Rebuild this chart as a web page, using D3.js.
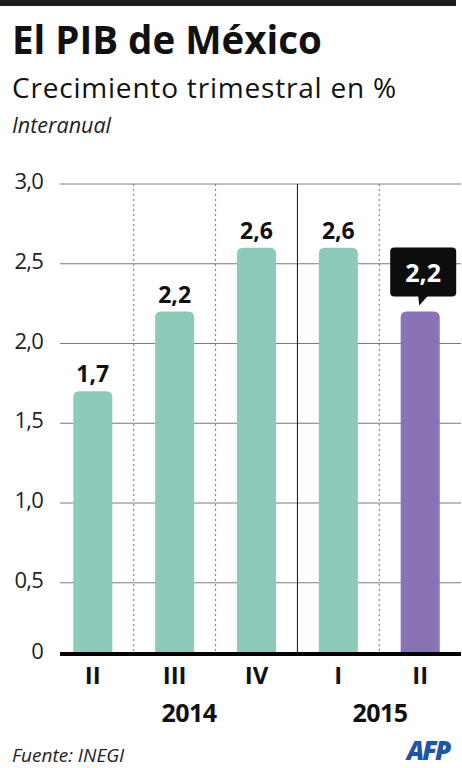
<!DOCTYPE html>
<html><head><meta charset="utf-8">
<script src="https://cdn.jsdelivr.net/npm/d3@7"></script>
<style>
html,body{margin:0;padding:0;background:#fff;}
svg{display:block;}
text{font-family:"Open Sans","Noto Sans",sans-serif;}
</style></head>
<body>
<script>
// ---- data ----
const quarters = ["II", "III", "IV", "I", "II"];
const years = ["2014", "2014", "2014", "2015", "2015"];
const values = [1.7, 2.2, 2.6, 2.6, 2.2];
const valueLabels = ["1,7", "2,2", "2,6", "2,6", "2,2"];
const yTicks = [0, 0.5, 1.0, 1.5, 2.0, 2.5, 3.0];
const yTickLabels = ["0", "0,5", "1,0", "1,5", "2,0", "2,5", "3,0"];
const yearLabels = ["2014", "2015"];
const highlightIndex = 4;

const W = 462, H = 768;
const svg = d3.select("body").append("svg").attr("width", W).attr("height", H);

const teal = "#8dcaba", purple = "#8a73b5";

// top bar
svg.append("rect").attr("x", 0).attr("y", 0).attr("width", 456).attr("height", 6).attr("fill", "#1c1c1c");

// titles
svg.append("text").attr("x", 12).attr("y", 54).attr("font-size", 38.5).attr("font-weight", 700)
  .attr("fill", "#111").text("El PIB de México");
svg.append("text").attr("x", 12).attr("y", 98).attr("font-size", 28).attr("font-weight", 400)
  .attr("fill", "#111").attr("letter-spacing", 0.8).text("Crecimiento trimestral en %");
svg.append("text").attr("x", 12).attr("y", 133).attr("font-size", 21.5).attr("font-style", "italic")
  .attr("fill", "#222").text("Interanual");

// scales
const x = d3.scaleBand().domain(d3.range(values.length)).range([52, 461]).paddingInner(0.523).paddingOuter(0.26);
const y = d3.scaleLinear().domain([0, 3]).range([662.5, 184]);
const baseY = 654;
const gridX0 = 60, gridX1 = 461;

// gridlines
svg.append("g").selectAll("line").data(yTicks.filter(d => d > 0)).join("line")
  .attr("x1", gridX0).attr("x2", gridX1)
  .attr("y1", d => y(d)).attr("y2", d => y(d))
  .attr("stroke", "#7a7a7a").attr("stroke-width", 1);

// y tick labels
svg.append("g").selectAll("text").data(yTicks).join("text")
  .attr("x", 43).attr("y", d => (d === 0 ? baseY : y(d)) + 5)
  .attr("text-anchor", "end").attr("font-size", 22).attr("fill", "#222").attr("letter-spacing", -0.8)
  .text((d, i) => yTickLabels[i]);

// separators
const step = x.step();
const seps = d3.range(1, values.length);
svg.append("g").selectAll("line").data(seps).join("line")
  .attr("x1", i => x(i) - x.paddingInner() * step / 2).attr("x2", i => x(i) - x.paddingInner() * step / 2)
  .attr("y1", y(3)).attr("y2", baseY)
  .attr("stroke", i => years[i] !== years[i - 1] ? "#111" : "#777")
  .attr("stroke-width", 1)
  .attr("stroke-dasharray", i => years[i] !== years[i - 1] ? null : "2,3");

// bars with rounded top
const r = 6;
function barPath(i) {
  const x0 = x(i), x1 = x(i) + x.bandwidth(), top = y(values[i]), bot = baseY - 2;
  return `M${x0},${bot}V${top + r}Q${x0},${top} ${x0 + r},${top}H${x1 - r}Q${x1},${top} ${x1},${top + r}V${bot}Z`;
}
svg.append("g").selectAll("path").data(d3.range(values.length)).join("path")
  .attr("d", barPath)
  .attr("fill", i => i === highlightIndex ? purple : teal);

// baseline
svg.append("line").attr("x1", gridX0).attr("x2", gridX1).attr("y1", baseY).attr("y2", baseY)
  .attr("stroke", "#000").attr("stroke-width", 4);

// value labels
svg.append("g").selectAll("text").data(d3.range(values.length).filter(i => i !== highlightIndex)).join("text")
  .attr("x", i => x(i) + x.bandwidth() / 2).attr("y", i => y(values[i]) - 9)
  .attr("text-anchor", "middle").attr("font-size", 23).attr("font-weight", 700).attr("fill", "#111")
  .text(i => valueLabels[i]);

// callout for highlighted
{
  const i = highlightIndex;
  const cx = x(i) + x.bandwidth() / 2 + 3;
  const top = y(values[i]);
  const bw = 66, bh = 49, by = top - 64;
  svg.append("rect").attr("x", cx - bw / 2).attr("y", by).attr("width", bw).attr("height", bh)
    .attr("rx", 4).attr("fill", "#0d0d0d");
  svg.append("path")
    .attr("d", `M${cx - 5},${by + bh - 1}L${cx - 4},${by + bh + 9}L${cx + 5},${by + bh - 1}Z`)
    .attr("fill", "#0d0d0d");
  svg.append("text").attr("x", cx).attr("y", by + 34).attr("text-anchor", "middle")
    .attr("font-size", 25).attr("font-weight", 700).attr("fill", "#fff").text(valueLabels[i]);
}

// quarter labels
svg.append("g").selectAll("text").data(d3.range(values.length)).join("text")
  .attr("x", i => x(i) + x.bandwidth() / 2).attr("y", 684)
  .attr("text-anchor", "middle").attr("font-size", 24).attr("font-weight", 700).attr("fill", "#111")
  .text(i => quarters[i]);

// year labels
const yearX = { "2014": 189, "2015": 380 };
svg.append("g").selectAll("text").data(yearLabels).join("text")
  .attr("x", d => yearX[d]).attr("y", 722)
  .attr("text-anchor", "middle").attr("font-size", 25).attr("font-weight", 700).attr("fill", "#111")
  .attr("letter-spacing", -0.5).text(d => d);

// footer
svg.append("text").attr("x", 12).attr("y", 762).attr("font-size", 19).attr("font-style", "italic")
  .attr("fill", "#222").text("Fuente: INEGI");
svg.append("text").attr("x", 428).attr("y", 760).attr("text-anchor", "middle")
  .attr("font-size", 26).attr("font-weight", 800).attr("font-style", "italic")
  .attr("fill", "#1d55a8").attr("letter-spacing", -2).text("AFP");
</script>
</body></html>
